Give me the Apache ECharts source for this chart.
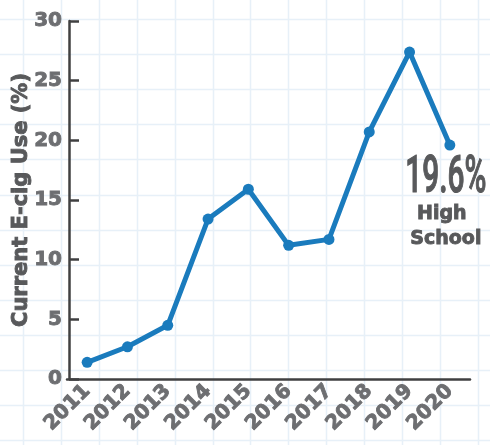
<!DOCTYPE html>
<html>
<head>
<meta charset="utf-8">
<script src="https://cdn.jsdelivr.net/npm/echarts@6/dist/echarts.min.js"></script>
<style>
  html, body { margin: 0; padding: 0; background: #ffffff; }
  #chart { width: 490px; height: 445px; }
</style>
</head>
<body>
<div id="chart"></div>
<script>
// Survey years and share of high-school students currently using e-cigarettes (%)
const years = ['2011', '2012', '2013', '2014', '2015', '2016', '2017', '2018', '2019', '2020'];
const ecigUse = [1.4, 2.7, 4.5, 13.4, 15.9, 11.2, 11.7, 20.7, 27.4, 19.6];
const yTicks = [0, 5, 10, 15, 20, 25, 30];
const seriesName = ['High', 'School'];
const yTitle = 'Current E-cig Use (%)';

const LABEL_GREY = '#6d6e71';
const DARK_GREY = '#58595b';
const AXIS_COLOR = '#404041';
const LINE_BLUE = '#1a7bbd';
const PAPER_LINE = '#e7f0f8';

// heavy label text: bold face plus a hairline outline in the same colour
function heavyText(color, size) {
  return {
    color: color, fontFamily: 'DejaVu Sans', fontWeight: 'bold', fontSize: size,
    textBorderColor: color, textBorderWidth: 0.9
  };
}

const chart = echarts.init(document.getElementById('chart'), null, { renderer: 'canvas' });

// light graph-paper backdrop behind the plot
function paperLines() {
  const out = [];
  for (let x = 23; x < 490; x += 37.9) {
    out.push({ type: 'line', silent: true, z: -10,
      shape: { x1: Math.round(x) + 0.5, y1: 0, x2: Math.round(x) + 0.5, y2: 445 },
      style: { stroke: PAPER_LINE, lineWidth: 1.5 } });
  }
  for (let y = 19; y < 445; y += 35.1) {
    out.push({ type: 'line', silent: true, z: -10,
      shape: { x1: 0, y1: Math.round(y) + 0.5, x2: 490, y2: Math.round(y) + 0.5 },
      style: { stroke: PAPER_LINE, lineWidth: 1.5 } });
  }
  return out;
}

chart.setOption({
  animation: false,
  backgroundColor: '#ffffff',
  grid: { left: 67, right: 20, top: 21, bottom: 66, containLabel: false, outerBoundsMode: 'none' },
  xAxis: {
    type: 'category',
    data: years,
    boundaryGap: true,
    axisLine: { lineStyle: { color: AXIS_COLOR, width: 2.5 } },
    axisTick: { inside: true, alignWithLabel: true, length: 8, lineStyle: { color: AXIS_COLOR, width: 2.5 } },
    axisLabel: Object.assign({ rotate: 45, margin: 9, interval: 0 }, heavyText(LABEL_GREY, 20)),
    splitLine: { show: false }
  },
  yAxis: {
    type: 'value',
    min: yTicks[0], max: yTicks[yTicks.length - 1], interval: yTicks[1] - yTicks[0],
    offset: -2,
    name: yTitle,
    nameLocation: 'middle',
    nameGap: 37,
    nameMoveOverlap: false,
    nameTextStyle: heavyText(DARK_GREY, 21),
    axisLine: { show: true, lineStyle: { color: AXIS_COLOR, width: 2.5 } },
    axisTick: { show: true, inside: true, length: 10, lineStyle: { color: AXIS_COLOR, width: 2.5 } },
    axisLabel: Object.assign({ margin: 7 }, heavyText(LABEL_GREY, 20)),
    splitLine: { show: false }
  },
  series: [{
    type: 'line',
    name: seriesName.join(' '),
    data: ecigUse,
    symbol: 'circle',
    symbolSize: 11,
    lineStyle: { color: LINE_BLUE, width: 5 },
    itemStyle: { color: LINE_BLUE },
    z: 5
  }],
  graphic: paperLines()
});

// End-of-line callout: value of the final year plus the group name
const lastIdx = ecigUse.length - 1;
const [px, py] = chart.convertToPixel({ seriesIndex: 0 }, [lastIdx, ecigUse[lastIdx]]);
const valueText = ecigUse[lastIdx].toFixed(1) + '%';

const bigFont = '500 52px Roboto';
const ctx = document.createElement('canvas').getContext('2d');
ctx.font = bigFont;
const rawWidth = ctx.measureText(valueText).width;
const squeeze = 81 / rawWidth;

function smallCallout(text, x, y) {
  return {
    type: 'text', z: 20, x: x, y: y,
    style: {
      text: text, fontFamily: 'DejaVu Sans', fontWeight: 'bold', fontSize: 19,
      fill: DARK_GREY, stroke: DARK_GREY, lineWidth: 0.9,
      align: 'center', verticalAlign: 'middle'
    }
  };
}

chart.setOption({
  graphic: paperLines().concat([
    {
      type: 'text', z: 20,
      x: px - 4, y: py + 34, scaleX: squeeze, scaleY: 1,
      style: {
        text: valueText, font: bigFont, fill: DARK_GREY,
        stroke: DARK_GREY, lineWidth: 1.2,
        align: 'center', verticalAlign: 'middle'
      }
    },
    smallCallout(seriesName[0], px - 8, py + 69),
    smallCallout(seriesName[1], px - 4, py + 94)
  ])
});
</script>
</body>
</html>
